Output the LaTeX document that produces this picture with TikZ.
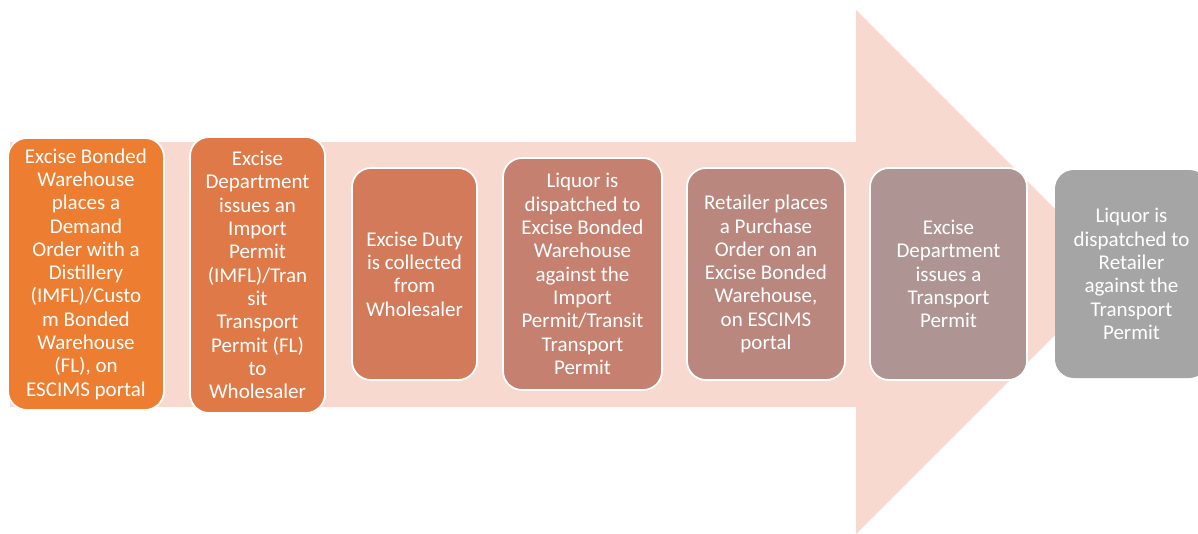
\documentclass[tikz,border=0pt]{standalone}
\usepackage{fontspec}
\setmainfont{Carlito}
\definecolor{arrowpink}{HTML}{F8D9CF}
\definecolor{stepA}{HTML}{ED7D31}
\definecolor{stepB}{HTML}{DF7A48}
\definecolor{stepC}{HTML}{D37A5B}
\definecolor{stepD}{HTML}{C6806F}
\definecolor{stepE}{HTML}{B9877E}
\definecolor{stepF}{HTML}{AE9594}
\definecolor{stepG}{HTML}{A5A5A5}
\tikzset{
  stepbox/.style={draw=white, line width=1.8pt, rounded corners=19pt,
    text=white, align=center, inner sep=0pt,
    font=\fontsize{21}{23.3}\selectfont},
}
\begin{document}
\begin{tikzpicture}[x=1pt,y=-1pt]
\useasboundingbox (0,0) rectangle (1198,533);
\begin{scope}
\clip (0,0) rectangle (1198,533);
% large background arrow
\fill[arrowpink] (10,142) -- (856,142) -- (856,10) -- (1118,272)
  -- (856,534) -- (856,407) -- (10,407) -- cycle;
% process steps
\node[stepbox, fill=stepA, minimum width=156pt, minimum height=272pt] (s1) at (86,274)
  {Excise Bonded\\Warehouse\\places a\\Demand\\Order with a\\Distillery\\(IMFL)/Custo\\m Bonded\\Warehouse\\(FL), on\\ESCIMS portal};
\node[stepbox, fill=stepB, minimum width=135pt, minimum height=276pt] (s2) at (257.5,275)
  {Excise\\Department\\issues an\\Import\\Permit\\(IMFL)/Tran\\sit\\Transport\\Permit (FL)\\to\\Wholesaler};
\node[stepbox, fill=stepC, minimum width=125pt, minimum height=212pt] (s3) at (414.5,274)
  {Excise Duty\\is collected\\from\\Wholesaler};
\node[stepbox, fill=stepD, minimum width=159pt, minimum height=232pt] (s4) at (582.5,274)
  {Liquor is\\dispatched to\\Excise Bonded\\Warehouse\\against the\\Import\\Permit/Transit\\Transport\\Permit};
\node[stepbox, fill=stepE, minimum width=158pt, minimum height=212pt] (s5) at (766,274)
  {Retailer places\\a Purchase\\Order on an\\Excise Bonded\\Warehouse,\\on ESCIMS\\portal};
\node[stepbox, fill=stepF, minimum width=157pt, minimum height=212pt] (s6) at (948.5,274)
  {Excise\\Department\\issues a\\Transport\\Permit};
\node[stepbox, fill=stepG, draw=none, minimum width=153pt, minimum height=208pt] (s7) at (1131.5,274)
  {Liquor is\\dispatched to\\Retailer\\against the\\Transport\\Permit};
\end{scope}
\end{tikzpicture}
\end{document}
